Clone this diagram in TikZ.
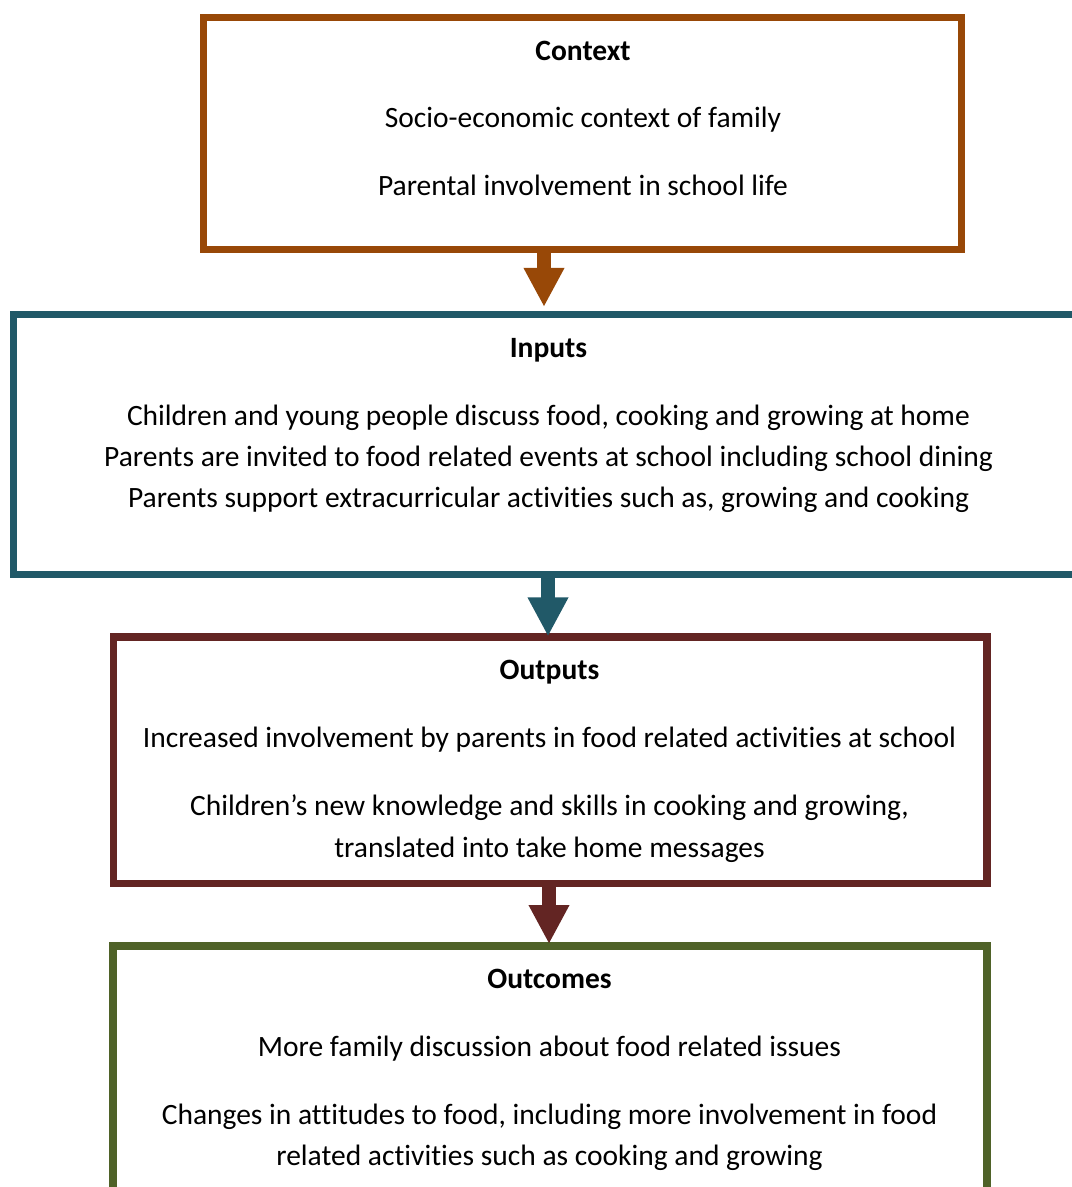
\documentclass[tikz,border=0pt]{standalone}
\usepackage{fontspec}
\setmainfont{Carlito}[Ligatures=NoCommon]
\usetikzlibrary{arrows.meta,fit}
\definecolor{ctxc}{HTML}{984807}
\definecolor{inpc}{HTML}{215968}
\definecolor{outc}{HTML}{632523}
\definecolor{ocmc}{HTML}{4F6228}
\tikzset{
  box/.style={draw=#1, line width=3.65pt, inner sep=0pt, outer sep=0pt, rectangle},
  txt/.style={anchor=base, inner sep=0pt, font=\fontsize{14.75}{18}\selectfont},
  hd/.style={txt, font=\fontsize{14.75}{18}\selectfont\bfseries},
  arr/.style={draw=#1, line width=7pt, -{Triangle[width=19pt,length=19.5pt,fill=#1]}},
}
\begin{document}
\begin{tikzpicture}[x=0.5pt,y=-0.5pt]
\useasboundingbox (0,0) rectangle (1071,1187);
\node[box=ctxc, fit={(203.8,17.7) (961.5,249.7)}] (ctx) {};
\node[box=inpc, fit={(13.7,314.7) (1082,574.5)}] (inp) {};
\node[box=outc, fit={(113.5,637) (987,883.7)}] (out) {};
\node[box=ocmc, fit={(113,946) (987,1230)}] (ocm) {};
% texts
\node[hd] (t1) at (583,60.5) {Context};
\node[txt] (t2) at (583,127.5) {Socio-economic context of family};
\node[txt] (t3) at (583,195.5) {Parental involvement in school life};
\node[hd] (t4) at (548.5,357.5) {Inputs};
\node[txt] (t5) at (548.5,425.5) {Children and young people discuss food, cooking and growing at home};
\node[txt] (t6) at (548.5,466.5) {Parents are invited to food related events at school including school dining};
\node[txt] (t7) at (548.5,507.5) {Parents support extracurricular activities such as, growing and cooking};
\node[hd] (t8) at (549.5,679.5) {Outputs};
\node[txt] (t9) at (549.5,747.5) {Increased involvement by parents in food related activities at school};
\node[txt] (t10) at (549.5,815.5) {Children’s new knowledge and skills in cooking and growing,};
\node[txt] (t11) at (549.5,857.5) {translated into take home messages};
\node[hd] (t12) at (549.5,988.5) {Outcomes};
\node[txt] (t13) at (549.5,1056.5) {More family discussion about food related issues};
\node[txt] (t14) at (549.5,1124.5) {Changes in attitudes to food, including more involvement in food};
\node[txt] (t15) at (549.5,1165.5) {related activities such as cooking and growing};
% arrows
\coordinate (a1) at (544,0);
\coordinate (a2) at (548,0);
\coordinate (a3) at (549,0);
\draw[arr=ctxc, shorten >=3.9pt] (ctx.south -| a1) -- (inp.north -| a1);
\draw[arr=inpc, shorten >=0.3pt] (inp.south -| a2) -- (out.north -| a2);
\draw[arr=outc, shorten >=1pt] (out.south -| a3) -- (ocm.north -| a3);
\end{tikzpicture}
\end{document}
